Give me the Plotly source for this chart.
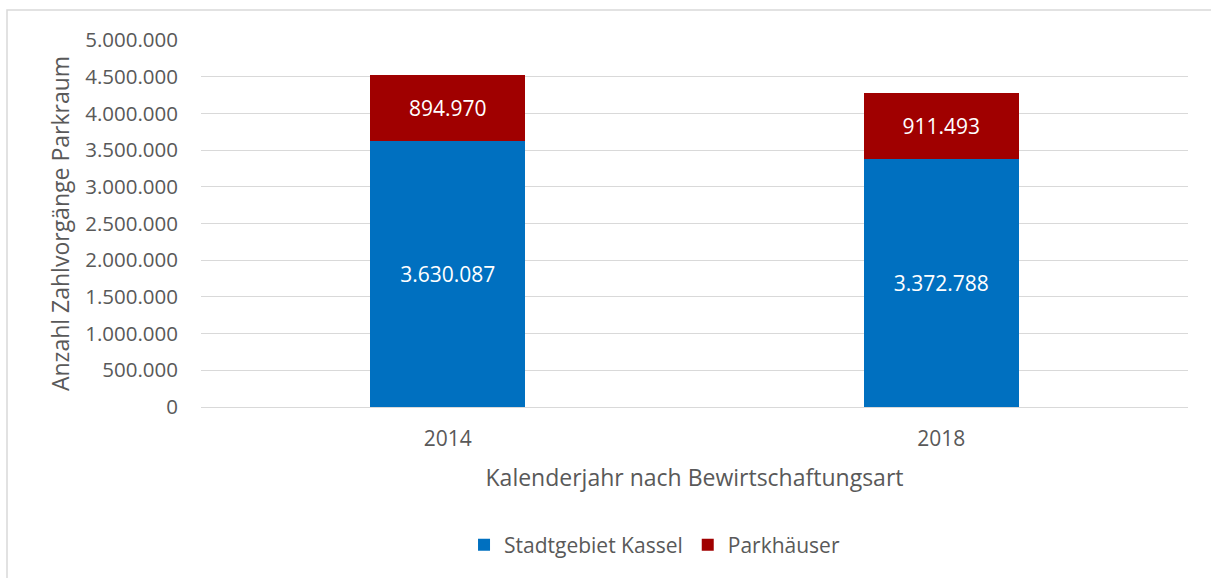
import plotly.graph_objects as go

years = ["2014", "2018"]
stadtgebiet = [3630087, 3372788]
parkhaeuser = [894970, 911493]
y_ticks = [0, 500000, 1000000, 1500000, 2000000, 2500000, 3000000, 3500000, 4000000, 4500000, 5000000]

def de(v):
    return f"{v:,}".replace(",", ".")

FONT = "Open Sans"
GREY = "#595959"

fig = go.Figure()
fig.add_trace(go.Bar(
    x=years, y=stadtgebiet, name="Stadtgebiet Kassel",
    marker=dict(color="#0070C0", line=dict(width=0)),
    text=[de(v) for v in stadtgebiet], textposition="inside", insidetextanchor="middle",
    textfont=dict(color="white", size=21, family=FONT),
))
fig.add_trace(go.Bar(
    x=years, y=parkhaeuser, name="Parkhäuser",
    marker=dict(color="#A00000", line=dict(width=0)),
    text=[de(v) for v in parkhaeuser], textposition="inside", insidetextanchor="middle",
    textfont=dict(color="white", size=21, family=FONT),
))

fig.update_layout(
    barmode="stack",
    bargap=0.686,
    width=1211, height=578,
    paper_bgcolor="white", plot_bgcolor="white",
    margin=dict(l=201, r=23, t=40, b=171),
    separators=",.",
    font=dict(family=FONT, color=GREY, size=20),
    showlegend=True,
    legend=dict(orientation="h", x=0.4595, xanchor="center", y=-0.376, yanchor="middle",
                font=dict(size=21, color=GREY, family=FONT), traceorder="normal"),
    xaxis=dict(
        title=dict(text="Kalenderjahr nach Bewirtschaftungsart", font=dict(size=23, color=GREY), standoff=18),
        tickfont=dict(size=21, color=GREY), showgrid=False, showline=False, ticks="",
        ticklabelstandoff=17,
    ),
    yaxis=dict(
        title=dict(text="Anzahl Zahlvorgänge Parkraum", font=dict(size=23, color=GREY), standoff=9),
        range=[0, 5000000], tickvals=y_ticks, ticktext=[de(v) for v in y_ticks],
        tickfont=dict(size=20.5, color=GREY),
        showgrid=True, gridcolor="#d9d9d9", gridwidth=1,
        zeroline=True, zerolinecolor="#d9d9d9", zerolinewidth=1,
        ticks="", ticklabelstandoff=22,
    ),
)

fig.add_shape(type="rect", xref="paper", yref="paper",
              x0=(7 - 201) / 987, x1=1.2, y0=-0.6, y1=(407 - 10) / 367,
              line=dict(color="#d9d9d9", width=1.5), fillcolor="rgba(0,0,0,0)", layer="below")

fig.write_html("out.html", config={"displayModeBar": False},
               post_script="document.body.style.margin='0';document.body.style.overflow='hidden';")
